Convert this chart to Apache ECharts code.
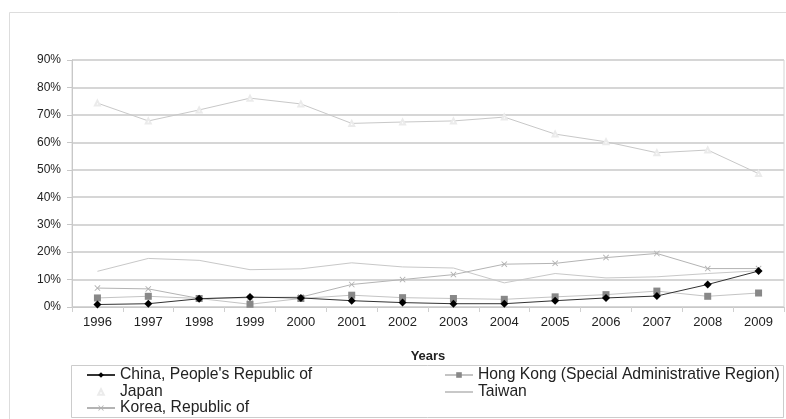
<!DOCTYPE html>
<html><head><meta charset="utf-8">
<script src="https://cdn.jsdelivr.net/npm/echarts@6/dist/echarts.min.js"></script>
<style>html,body{margin:0;padding:0;background:#fff}#c{width:786px;height:419px}</style>
</head><body><div id="c"></div>
<script>
var years = ['1996','1997','1998','1999','2000','2001','2002','2003','2004','2005','2006','2007','2008','2009'];
var china = [0.9,1.2,3.0,3.6,3.3,2.3,1.6,1.2,1.2,2.3,3.3,4.0,8.2,13.1];
var hongKong = [3.3,3.9,3.1,1.0,3.1,4.3,3.4,3.1,2.8,3.7,4.5,5.8,3.9,5.1];
var japan = [74.3,67.8,71.8,76.1,74.0,66.9,67.4,67.8,69.2,63.0,60.2,56.2,57.2,48.6];
var taiwan = [13.0,17.7,17.0,13.6,13.9,16.1,14.6,14.2,8.8,12.2,10.6,11.0,12.2,13.2];
var korea = [6.9,6.6,3.1,3.4,3.6,8.2,10.0,11.8,15.6,15.9,18.0,19.5,14.0,14.0];
var yTicks = [0,10,20,30,40,50,60,70,80,90];

var F = 'Liberation Sans, Arial, sans-serif';
var xSym = 'path://M0,1L1,0L5,4L9,0L10,1L6,5L10,9L9,10L5,6L1,10L0,9L4,5Z';
var N = {china:'China, People\'s Republic of', hk:'Hong Kong (Special Administrative Region)', jp:'Japan', tw:'Taiwan', kr:'Korea, Republic of'};
function lg(item, left, top, w) {
  return {data:[item],orient:'horizontal',left:left,top:top,itemWidth:w||28,itemHeight:7,
    textStyle:{fontFamily:F,fontSize:15.7,color:'#222'},padding:0,selectedMode:false};
}
var chart = echarts.init(document.getElementById('c'), null, {renderer:'canvas'});
chart.setOption({
  animation:false,
  backgroundColor:'#fff',
  textStyle:{fontFamily:F},
  grid:{left:72,right:2,top:60,bottom:112,show:true,borderColor:'#d4d4d4',borderWidth:1},
  xAxis:{type:'category',data:years,boundaryGap:true,
    name:'Years',nameLocation:'middle',nameGap:43,
    nameTextStyle:{fontFamily:F,fontSize:13,fontWeight:'bold',color:'#222'},
    axisLine:{lineStyle:{color:'#c8c8c8',width:1}},
    axisTick:{show:true,length:5,lineStyle:{color:'#d0d0d0'}},
    axisLabel:{fontFamily:F,fontSize:13,color:'#222',margin:9}},
  yAxis:{type:'value',min:yTicks[0],max:yTicks[yTicks.length-1],interval:10,
    axisLine:{show:true,lineStyle:{color:'#c8c8c8'}},
    axisTick:{show:true,length:5,lineStyle:{color:'#c8c8c8'}},
    axisLabel:{fontFamily:F,fontSize:12,color:'#222',margin:11,formatter:'{value}%'},
    splitLine:{lineStyle:{color:'#d6d6d6',width:2}}},
  legend:[
    lg({name:N.china}, 86, 367),
    lg({name:N.jp, lineStyle:{opacity:0}}, 86, 384),
    lg({name:N.kr}, 86, 400),
    lg({name:N.hk}, 444, 367),
    lg({name:N.tw, itemStyle:{opacity:0}}, 444, 384)
  ],
  graphic:[
    {type:'rect',shape:{x:9.5,y:12.5,width:800,height:430},style:{fill:null,stroke:'#dddddd',lineWidth:1},silent:true,z:-1},
    {type:'rect',shape:{x:71.5,y:365.5,width:712,height:52},style:{fill:null,stroke:'#cccccc',lineWidth:1},silent:true}
  ],
  series:[
    {name:N.china,type:'line',data:china,symbol:'diamond',symbolSize:8,
     lineStyle:{color:'#333',width:1},itemStyle:{color:'#000'},z:5},
    {name:N.hk,type:'line',data:hongKong,symbol:'rect',symbolSize:7,
     lineStyle:{color:'#c4c4c4',width:1},itemStyle:{color:'#888'},z:4},
    {name:N.jp,type:'line',data:japan,symbol:'emptyTriangle',symbolSize:5,
     lineStyle:{color:'#c8c8c8',width:1},itemStyle:{color:'#ebebeb',borderColor:'#ebebeb'},z:2},
    {name:N.kr,type:'line',data:korea,symbol:xSym,symbolSize:6,
     lineStyle:{color:'#b4b4b4',width:1},itemStyle:{color:'#b0b0b0'},z:3},
    {name:N.tw,type:'line',data:taiwan,symbol:'none',showSymbol:false,
     lineStyle:{color:'#c8c8c8',width:1},itemStyle:{color:'#c8c8c8'},z:1}
  ]
});
</script></body></html>
